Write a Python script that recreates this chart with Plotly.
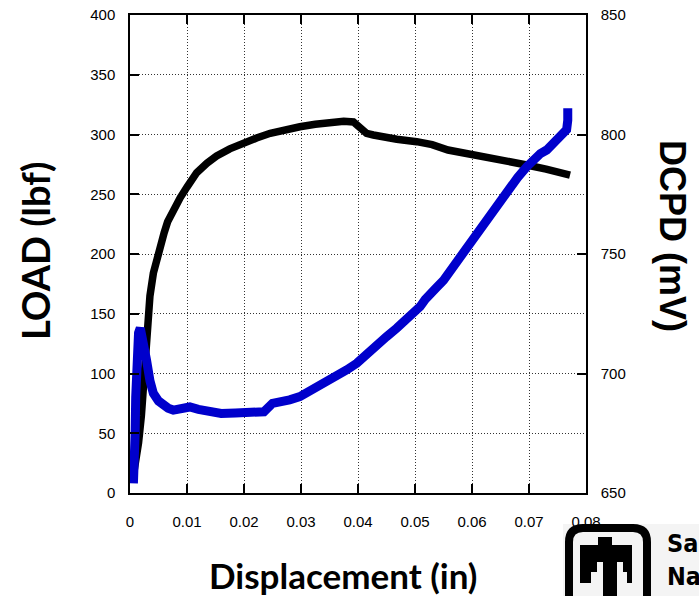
import plotly.graph_objects as go

# ---------------- data ----------------
load_x = [0.0005, 0.0010, 0.0015, 0.0020, 0.0025, 0.0030, 0.0035, 0.0041, 0.0047, 0.0053,
          0.0060, 0.0066, 0.0077, 0.0088, 0.0100, 0.0117, 0.0135, 0.0152, 0.0175, 0.0199,
          0.0222, 0.0246, 0.0272, 0.0298, 0.0325, 0.0351, 0.0375, 0.0392, 0.0398, 0.0404,
          0.0415, 0.0427, 0.0447, 0.0468, 0.0503, 0.0530, 0.0558, 0.0600, 0.0650, 0.0696,
          0.0730, 0.0772]
load_lbf = [12, 25, 42, 65, 95, 138, 165, 184, 196, 206,
            218, 227, 238, 247, 256, 268, 276, 282, 288, 293,
            297, 301, 304, 306.5, 308.5, 310, 311, 310.5, 308, 303.8,
            301, 299.6, 297.5, 296, 294, 291.5, 287, 283.5, 279.5, 274.5,
            271, 266]

dcpd_x = [0.0006, 0.0008, 0.0009, 0.0010, 0.0012, 0.0015, 0.0018, 0.0021, 0.0025, 0.0029,
          0.0035, 0.0041, 0.0050, 0.0058, 0.0067, 0.0076, 0.0090, 0.0105, 0.0120, 0.0140,
          0.0160, 0.0185, 0.0216, 0.0235, 0.0250, 0.0265, 0.0280, 0.0298, 0.0315, 0.0333,
          0.0348, 0.0363, 0.0380, 0.0398, 0.0412, 0.0427, 0.0440, 0.0450, 0.0468, 0.0485,
          0.0497, 0.0509, 0.0518, 0.0526, 0.0538, 0.0550, 0.0562, 0.0573, 0.0585, 0.0600,
          0.0614, 0.0630, 0.0649, 0.0665, 0.0680, 0.0696, 0.0710, 0.0720, 0.0731, 0.0745,
          0.0755, 0.0766, 0.0768, 0.0768]
dcpd_mv = [654, 662, 675, 690, 708, 717, 719, 716, 711, 705.6,
           697, 691.7, 688.5, 686.5, 685.5, 684.7, 685, 686, 685, 684,
           683.3, 683.5, 683.3, 684, 687.5, 688, 689, 690.3, 692.5, 694.5,
           696.5, 698.7, 701.5, 704.3, 707, 709.8, 713, 715.4, 719, 722.4,
           726, 728, 731, 733.6, 736, 739, 743, 747.5, 751.7, 756,
           761.4, 766.5, 772.6, 778, 782, 786.5, 790, 792, 793.5, 797,
           799.5, 802, 806, 811]

x_ticks = [0, 0.01, 0.02, 0.03, 0.04, 0.05, 0.06, 0.07, 0.08]
x_ticklabels = ["0", "0.01", "0.02", "0.03", "0.04", "0.05", "0.06", "0.07", "0.08"]
load_ticks = [0, 50, 100, 150, 200, 250, 300, 350, 400]
dcpd_ticks = [650, 700, 750, 800, 850]

x_title = "Displacement (in)"
y_title = "LOAD (lbf)"
y2_title = "DCPD (mV)"
logo_lines = ["Sandia", "National", "Laboratories"]

# ---------------- layout geometry (pixels) ----------------
W, H = 699, 596
L, R, T, B = 130, 586, 15, 493
PW, PH = R - L, B - T


def px(xp):
    return (xp - L) / PW


def py(yp):
    return (B - yp) / PH


fig = go.Figure()
fig.add_trace(go.Scatter(x=load_x, y=load_lbf, mode="lines",
                         line=dict(color="black", width=7.5), yaxis="y",
                         showlegend=False, hoverinfo="skip"))
fig.add_trace(go.Scatter(x=dcpd_x, y=dcpd_mv, mode="lines",
                         line=dict(color="#0000cc", width=9), yaxis="y2",
                         showlegend=False, hoverinfo="skip"))

tickfont = dict(family="Liberation Sans, Arial, sans-serif", size=15, color="black")
grid = dict(showgrid=True, gridcolor="#333333", gridwidth=1, griddash="1px,2px")

fig.update_layout(
    width=W, height=H,
    margin=dict(l=L, r=W - R, t=T, b=H - B, autoexpand=False),
    paper_bgcolor="white", plot_bgcolor="white",
    xaxis=dict(range=[0, 0.08], tickvals=x_ticks, ticktext=x_ticklabels,
               ticks="inside", ticklen=9, tickwidth=1.5, tickcolor="black",
               showline=True, linecolor="black", linewidth=1.5, mirror="ticks",
               tickfont=tickfont, zeroline=False, ticklabelstandoff=14, **grid),
    yaxis=dict(range=[0, 400], tickvals=load_ticks,
               ticks="inside", ticklen=9, tickwidth=1.5, tickcolor="black",
               showline=True, linecolor="black", linewidth=1.5, mirror=True,
               tickfont=tickfont, zeroline=False, ticklabelstandoff=10, **grid),
    yaxis2=dict(range=[650, 850], tickvals=dcpd_ticks, overlaying="y", side="right",
                ticks="inside", ticklen=9, tickwidth=1.5, tickcolor="black",
                showline=True, linecolor="black", linewidth=1.5,
                tickfont=tickfont, zeroline=False, showgrid=False, ticklabelstandoff=10),
)

annotations = [
    dict(text="<b>%s</b>" % y_title, x=px(35), y=py(251), xref="paper", yref="paper",
         textangle=-90, showarrow=False, xanchor="center", yanchor="middle",
         font=dict(family="Lato, Open Sans, sans-serif", size=38, color="black")),
    dict(text="<b>%s</b>" % x_title, x=px(343), y=py(575), xref="paper", yref="paper",
         showarrow=False, xanchor="center", yanchor="middle",
         font=dict(family="Lato, Open Sans, sans-serif", size=35, color="black")),
    dict(text="<b>%s</b>" % y2_title, x=px(672), y=py(236), xref="paper", yref="paper",
         textangle=90, showarrow=False, xanchor="center", yanchor="middle",
         font=dict(family="Liberation Sans, Arial, sans-serif", size=36, color="black")),
    # logo wordmark as one multi-line text block
    dict(text="<br>".join("<b>%s</b>" % t for t in logo_lines), x=px(665), y=py(527),
         xref="paper", yref="paper", showarrow=False, align="left",
         xanchor="left", yanchor="top",
         font=dict(family="Liberation Sans Narrow, DejaVu Sans Condensed, Arial Narrow, sans-serif",
                   size=25, color="black")),
]
fig.update_layout(annotations=annotations)

# logo graphics
shapes = [
    dict(type="rect", xref="paper", yref="paper", x0=px(563), x1=px(700), y0=py(524), y1=py(600),
         fillcolor="#f4f4f4", line=dict(width=0), layer="below"),
]
# rounded frame
x0, x1, y0, y1, r = 569, 647, 528, 612, 14
frame = (f"M {px(x0)},{py(y0 + r)} L {px(x0)},{py(y1)} "
         f"M {px(x0)},{py(y0 + r)} Q {px(x0)},{py(y0)} {px(x0 + r)},{py(y0)} "
         f"L {px(x1 - r)},{py(y0)} Q {px(x1)},{py(y0)} {px(x1)},{py(y0 + r)} L {px(x1)},{py(y1)}")
shapes.append(dict(type="path", xref="paper", yref="paper", path=frame,
                   line=dict(color="black", width=8)))
# thunderbird (polygon)
bird_pts = [(598, 537), (612, 537), (612, 545), (632, 545), (632, 583), (627, 583), (627, 572),
            (623, 572), (623, 562), (617, 562), (617, 600), (603, 600), (603, 562),
            (597, 562), (597, 572), (591, 572), (591, 583), (580, 583), (580, 545), (598, 545)]
bird = "M " + " L ".join(f"{px(a)},{py(b)}" for a, b in bird_pts) + " Z"
shapes.append(dict(type="path", xref="paper", yref="paper", path=bird,
                   fillcolor="black", line=dict(width=0)))
fig.update_layout(shapes=shapes)

fig.write_html("out.html")
